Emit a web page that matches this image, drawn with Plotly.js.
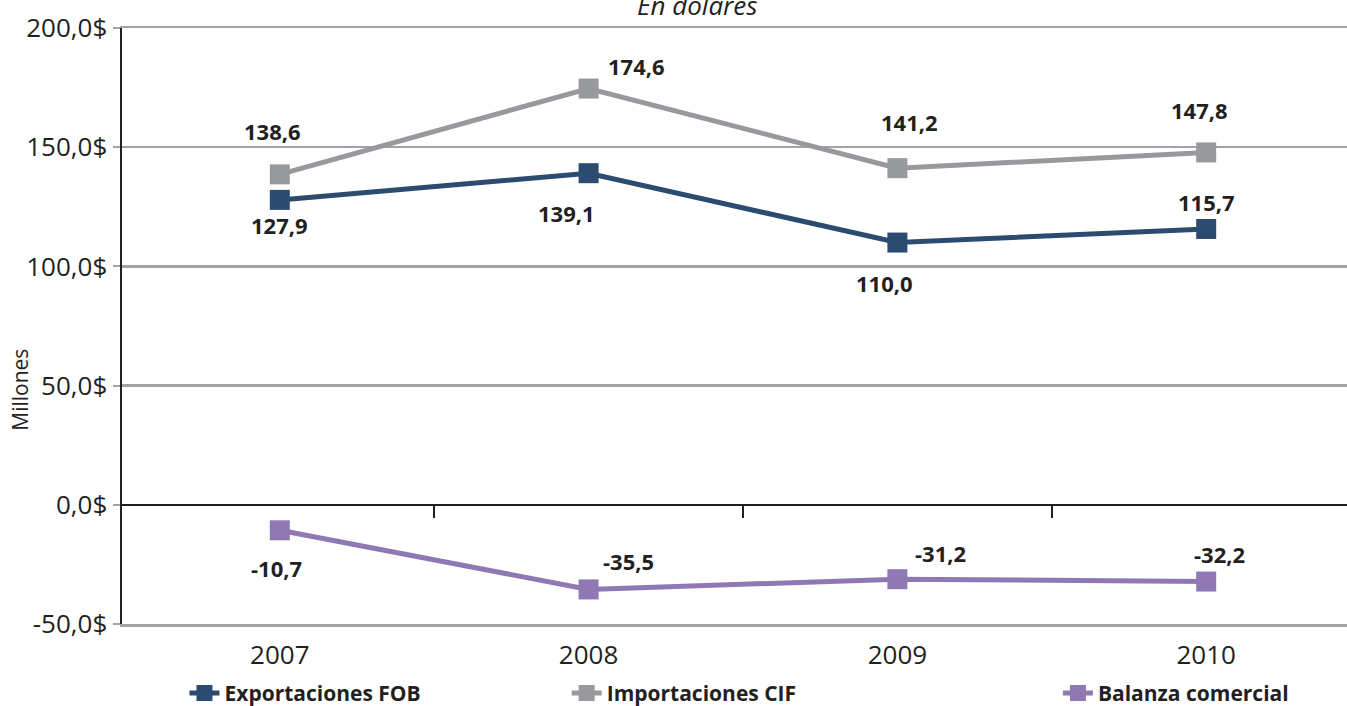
<!DOCTYPE html>
<html>
<head>
<meta charset="utf-8">
<script src="https://cdn.plot.ly/plotly-3.0.1.min.js"></script>
<style>html,body{margin:0;padding:0;background:#fff;}#chart{width:1347px;height:706px;}</style>
</head>
<body>
<div id="chart"></div>
<script>
const years = ['2007', '2008', '2009', '2010'];
const exportaciones = [127.9, 139.1, 110.0, 115.7];
const importaciones = [138.6, 174.6, 141.2, 147.8];
const balanza = [-10.7, -35.5, -31.2, -32.2];
const seriesNames = ['Exportaciones FOB', 'Importaciones CIF', 'Balanza comercial'];
const yTickVals = [-50, 0, 50, 100, 150, 200];
const yTickText = ['-50,0$', '0,0$', '50,0$', '100,0$', '150,0$', '200,0$'];

const colors = ['#2c4b70', '#98999d', '#8f78b3'];
const allSeries = [exportaciones, importaciones, balanza];
// label offsets (px) per series per point: [dx, dy] (dy positive = down)
const offsets = [
  [[0, 25], [-22, 40], [-13, 40], [0, -27]],
  [[-7, -43], [48, -23], [12, -46], [-7, -42]],
  [[-3, 38], [40, -28], [43, -26], [13, -28]]
];

function fmt(v) { return v.toFixed(1).replace('.', ','); }

const traces = allSeries.map((s, i) => ({
  type: 'scatter', mode: 'lines+markers',
  x: [0, 1, 2, 3], y: s, name: seriesNames[i],
  legend: i === 0 ? 'legend' : 'legend' + (i + 1),
  line: {color: colors[i], width: 5},
  marker: {symbol: 'square', size: 20, color: colors[i]},
  hoverinfo: 'skip', cliponaxis: false
}));
traces.push({type: 'scatter', x: [], y: [], xaxis: 'x2', showlegend: false, hoverinfo: 'skip'});

const annotations = [];
allSeries.forEach((s, i) => {
  s.forEach((v, j) => {
    annotations.push({x: j, y: v, xref: 'x', yref: 'y', text: fmt(v), showarrow: false,
      xshift: offsets[i][j][0], yshift: -offsets[i][j][1],
      font: {family: 'Open Sans, sans-serif', size: 22, color: '#231f20', weight: 'bold'}});
  });
});
annotations.push({x: 0.47, y: 1, xref: 'paper', yref: 'paper', xanchor: 'center', yanchor: 'bottom',
  yshift: 3, text: '<i>En dólares</i>', showarrow: false,
  font: {family: 'Open Sans, sans-serif', size: 26, color: '#231f20'}});
annotations.push({x: -0.0833, y: 0.393, xref: 'paper', yref: 'paper', xanchor: 'center', yanchor: 'middle',
  textangle: -90, text: 'Millones', showarrow: false,
  font: {family: 'Open Sans, sans-serif', size: 21, color: '#231f20'}});

const xr = [-0.511, 3.456];
const legFont = {family: 'Open Sans, sans-serif', size: 21, color: '#231f20', weight: 'bold'};
const legBase = {yref: 'container', y: 0.018, xanchor: 'left', yanchor: 'middle', orientation: 'h', font: legFont, bgcolor: 'rgba(0,0,0,0)'};
const layout = {
  width: 1347, height: 706,
  margin: {l: 122, r: 0, t: 28, b: 82},
  paper_bgcolor: '#fff', plot_bgcolor: '#fff',
  showlegend: true,
  xaxis: {
    range: xr, tickmode: 'array', tickvals: [0, 1, 2, 3], ticktext: years,
    showgrid: false, zeroline: false, showline: true, mirror: true, linecolor: '#a3a3a6', linewidth: 2.5,
    ticks: '', ticklabelstandoff: 6,
    tickfont: {family: 'Open Sans, sans-serif', size: 26, color: '#231f20'}
  },
  xaxis2: {
    overlaying: 'x', anchor: 'free', position: 0.2, range: xr,
    tickmode: 'array', tickvals: [0.5, 1.5, 2.5], ticks: 'outside', ticklen: 12, tickwidth: 2,
    tickcolor: '#231f20', showticklabels: false, showgrid: false, zeroline: false,
    showline: true, linecolor: '#231f20', linewidth: 2.5
  },
  yaxis: {
    range: [-50, 200], tickmode: 'array', tickvals: yTickVals, ticktext: yTickText,
    showgrid: true, gridcolor: '#a3a3a6', gridwidth: 2.5, zeroline: false,
    showline: true, linecolor: '#231f20', linewidth: 2.5,
    ticks: 'outside', ticklen: 7, tickwidth: 2, tickcolor: '#a3a3a6',
    tickfont: {family: 'Open Sans, sans-serif', size: 26, color: '#231f20'}
  },
  legend: Object.assign({x: 0.051}, legBase),
  legend2: Object.assign({x: 0.363}, legBase),
  legend3: Object.assign({x: 0.764}, legBase),
  annotations: annotations
};
Plotly.newPlot('chart', traces, layout, {displayModeBar: false, staticPlot: true});
</script>
</body>
</html>
